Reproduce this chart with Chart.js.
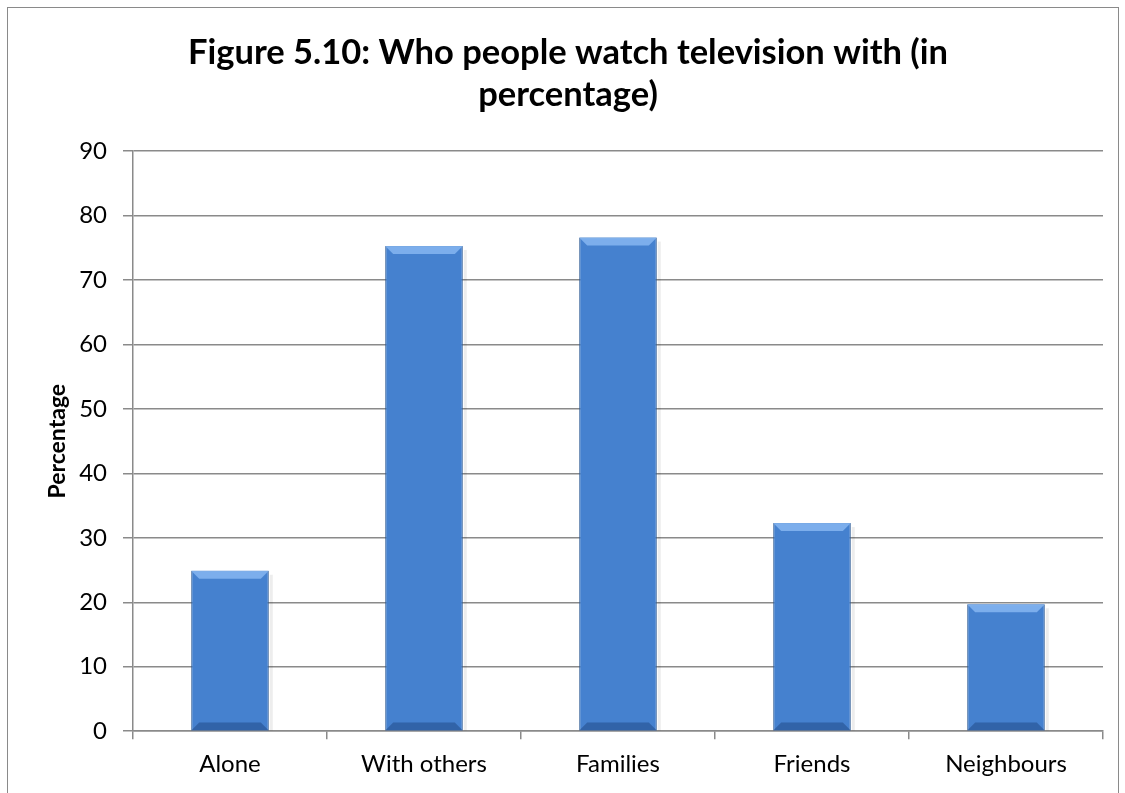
<!DOCTYPE html>
<html>
<head>
<meta charset="utf-8">
<script src="https://cdn.jsdelivr.net/npm/chart.js@4/dist/chart.umd.min.js"></script>
<style>
  body { margin: 0; background: #fff; }
  #wrap { position: absolute; left: 0; top: 0; width: 1125px; height: 793px; }
</style>
</head>
<body>
<div id="wrap"><canvas id="tvChart" width="1125" height="793"></canvas></div>
<script>
const categories = ["Alone", "With others", "Families", "Friends", "Neighbours"];
const percentages = [24.9, 75.3, 76.6, 32.3, 19.7];
const titleLines = ["Figure 5.10: Who people watch television with (in", "percentage)"];
const yTitle = "Percentage";

const fontFamily = "Lato, 'Open Sans', sans-serif";

// outer frame, like the spreadsheet chart border
const framePlugin = {
    id: 'frame',
    beforeDraw(chart) {
        const ctx = chart.ctx;
        ctx.save();
        ctx.fillStyle = '#fff';
        ctx.fillRect(0, 0, chart.width, chart.height);
        ctx.strokeStyle = '#8a8a8a';
        ctx.lineWidth = 1;
        ctx.strokeRect(7.5, 7.5, 1111, 820);
        ctx.restore();
    }
};

// bevel on each bar (top light, bottom darker)
const bevelPlugin = {
    id: 'bevel',
    afterDatasetsDraw(chart) {
        const ctx = chart.ctx;
        const meta = chart.getDatasetMeta(0);
        meta.data.forEach(bar => {
            const left = bar.x - bar.width / 2;
            const right = bar.x + bar.width / 2;
            const top = bar.y;
            const bottom = bar.base;
            const b = 8;
            ctx.save();
            // top bevel
            ctx.fillStyle = 'rgba(130, 178, 238, 0.9)';
            ctx.beginPath();
            ctx.moveTo(left, top);
            ctx.lineTo(right, top);
            ctx.lineTo(right - b, top + b);
            ctx.lineTo(left + b, top + b);
            ctx.closePath();
            ctx.fill();
            // bottom bevel
            ctx.fillStyle = 'rgba(30, 70, 130, 0.5)';
            ctx.beginPath();
            ctx.moveTo(left, bottom);
            ctx.lineTo(right, bottom);
            ctx.lineTo(right - b, bottom - b);
            ctx.lineTo(left + b, bottom - b);
            ctx.closePath();
            ctx.fill();
            // soft shadow on right side
            ctx.fillStyle = 'rgba(0, 0, 0, 0.07)';
            ctx.fillRect(right + 1, top + 4, 3, bottom - top - 4);
            ctx.restore();
        });
    }
};

function barFill(context) {
    const chart = context.chart;
    const el = context.element;
    if (!chart.chartArea || !el) return '#4581cf';
    const left = el.x - el.width / 2;
    const right = el.x + el.width / 2;
    if (!isFinite(left) || !isFinite(right) || right <= left) return '#4581cf';
    const g = chart.ctx.createLinearGradient(left, 0, right, 0);
    g.addColorStop(0, '#3566a8');
    g.addColorStop(0.1, '#4381d0');
    g.addColorStop(0.5, '#4682d1');
    g.addColorStop(0.9, '#3f7cc8');
    g.addColorStop(1, '#2c5b98');
    return g;
}

new Chart(document.getElementById("tvChart"), {
    type: "bar",
    data: {
        labels: categories,
        datasets: [{
            label: yTitle,
            data: percentages,
            backgroundColor: barFill,
            borderColor: '#2d5a94',
            borderWidth: 1,
            barPercentage: 0.4,
            categoryPercentage: 1.0
        }]
    },
    options: {
        responsive: false,
        animation: false,
        layout: {
            padding: { left: 33, right: 22, top: 32, bottom: 3 }
        },
        plugins: {
            legend: { display: false },
            tooltip: { enabled: false },
            title: {
                display: true,
                text: titleLines,
                color: '#000',
                font: { family: fontFamily, size: 34.5, weight: 'bold', lineHeight: 1.22 },
                padding: { top: 0, bottom: 35 }
            }
        },
        scales: {
            x: {
                grid: {
                    display: true,
                    drawOnChartArea: false,
                    color: '#8a8a8a',
                    lineWidth: 1.5,
                    tickLength: 8,
                    offset: true
                },
                border: { color: '#8a8a8a', width: 1.5 },
                ticks: {
                    color: '#000',
                    padding: 11,
                    font: { family: fontFamily, size: 24 }
                }
            },
            y: {
                min: 0,
                max: 90,
                afterFit(scale) {
                    scale.width = 100; // keeps the axis line where the original has it
                },
                ticks: {
                    stepSize: 10,
                    color: '#000',
                    padding: 16,
                    font: { family: fontFamily, size: 24 }
                },
                grid: {
                    color: '#8a8a8a',
                    lineWidth: 1.5,
                    tickLength: 10
                },
                border: { color: '#8a8a8a', width: 1.5 },
                title: {
                    display: true,
                    text: yTitle,
                    color: '#000',
                    font: { family: fontFamily, size: 23, weight: 'bold' },
                    padding: { top: 11, bottom: 7 }
                }
            }
        }
    },
    plugins: [framePlugin, bevelPlugin]
});
</script>
</body>
</html>
